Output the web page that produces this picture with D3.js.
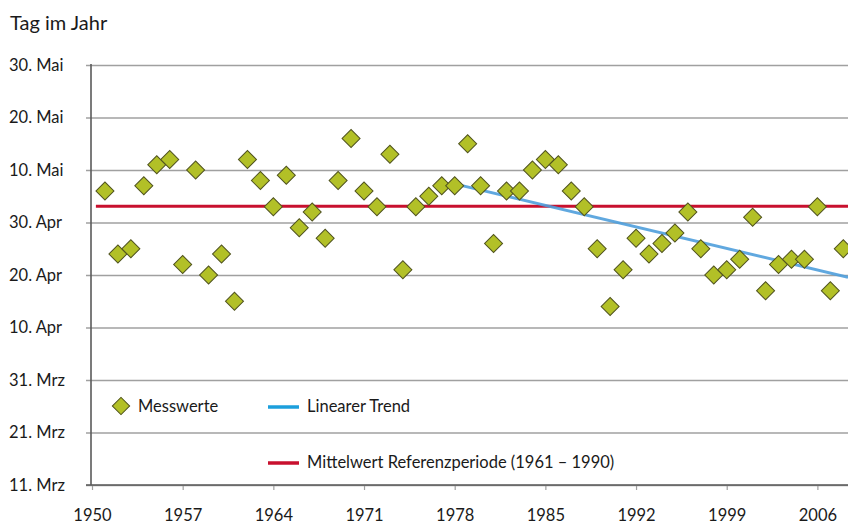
<!DOCTYPE html>
<html>
<head>
<meta charset="utf-8">
<script src="https://cdn.jsdelivr.net/npm/d3@7"></script>
<style>
  html, body { margin: 0; padding: 0; background: #fff; }
  svg { display: block; }
  text { font-family: Lato, "Noto Sans", sans-serif; fill: #1a1a1a; }
</style>
</head>
<body>
<svg id="chart" width="848" height="528"></svg>
<script>
// Observation years
const years = d3.range(1951, 2009);

// Day of year of each observation (1 = 1 Jan)
const dayOfYear = [
  126, 114, 115, 127, 131, 132, 112, 130, 110, 114,
  105, 132, 128, 123, 129, 119, 122, 117, 128, 136,
  126, 123, 133, 111, 123, 125, 127, 127, 135, 127,
  116, 126, 126, 130, 132, 131, 126, 123, 115, 104,
  111, 117, 114, 116, 118, 122, 115, 110, 111, 113,
  121, 107, 112, 113, 113, 123, 107, 115
];

// Mean of the 1961–1990 reference period (day of year)
const referenceMean = 123.1;
const referenceStart = 1950.3;

// Linear trend fitted over this span
const trendYears = [1978, 2008];

// Axis ticks
const yTickDays = [70, 80, 90, 100, 110, 120, 130, 140, 150];
const yTickLabels = ["11. Mrz", "21. Mrz", "31. Mrz", "10. Apr", "20. Apr", "30. Apr", "10. Mai", "20. Mai", "30. Mai"];
const xTickYears = [1950, 1957, 1964, 1971, 1978, 1985, 1992, 1999, 2006];

// Legend entries
const legendLabels = ["Messwerte", "Linearer Trend", "Mittelwert Referenzperiode (1961 \u2013 1990)"];

const colors = {
  point: "#b2c027",
  pointStroke: "#50531f",
  trend: "#4f9fdc",
  trendLegend: "#1c9fdc",
  mean: "#c8102e",
  grid: "#a0a0a0",
  axis: "#5a5a5a"
};

const labelSize = 16.5;

const svg = d3.select("#chart");

const plot = { left: 91, right: 848, top: 65, bottom: 485 };

const x = d3.scaleLinear().domain([1950, 2008]).range([92, 843.3]);
const y = d3.scaleLinear().domain([70, 150]).range([plot.bottom, plot.top]);

// Horizontal gridlines with short ticks left of the axis
const yAxis = d3.axisLeft(y)
  .tickValues(yTickDays)
  .tickSize(-(plot.right - plot.left))
  .tickSizeOuter(0)
  .tickFormat(() => "");

const gy = svg.append("g")
  .attr("transform", `translate(${plot.left},0)`)
  .call(yAxis);
gy.select(".domain").remove();
gy.selectAll(".tick line")
  .attr("x1", -5)
  .attr("stroke", colors.grid)
  .attr("stroke-width", 1.6);

// Y labels, left aligned
svg.append("g").selectAll("text")
  .data(yTickDays)
  .join("text")
  .attr("x", 9)
  .attr("y", d => y(d))
  .attr("dy", "0.35em")
  .attr("font-size", labelSize)
  .text((d, i) => yTickLabels[i]);

// Axis lines
svg.append("line")
  .attr("x1", plot.left).attr("x2", plot.left)
  .attr("y1", plot.top - 1).attr("y2", plot.bottom)
  .attr("stroke", colors.axis).attr("stroke-width", 1.6);

const xAxis = d3.axisBottom(x)
  .tickValues(xTickYears)
  .tickSize(5)
  .tickSizeOuter(0)
  .tickPadding(19)
  .tickFormat(d3.format("d"));

const gx = svg.append("g")
  .attr("transform", `translate(0,${plot.bottom})`)
  .call(xAxis);
gx.select(".domain").remove();
gx.selectAll(".tick line").attr("stroke", colors.grid).attr("stroke-width", 1.2);
gx.selectAll(".tick text")
  .attr("font-family", "Lato, 'Noto Sans', sans-serif")
  .attr("font-size", labelSize)
  .attr("fill", "#1a1a1a");

svg.append("line")
  .attr("x1", plot.left - 5).attr("x2", plot.right)
  .attr("y1", plot.bottom).attr("y2", plot.bottom)
  .attr("stroke", colors.axis).attr("stroke-width", 1.6);

// Title
svg.append("text")
  .attr("x", 10)
  .attr("y", 30)
  .attr("font-size", 20)
  .text("Tag im Jahr");

const data = years.map((yr, i) => ({ year: yr, day: dayOfYear[i] }));

// Reference mean
svg.append("line")
  .attr("x1", x(referenceStart)).attr("x2", plot.right)
  .attr("y1", y(referenceMean)).attr("y2", y(referenceMean))
  .attr("stroke", colors.mean)
  .attr("stroke-width", 3);

// Least-squares trend over the trend span
const trendData = data.filter(d => d.year >= trendYears[0] && d.year <= trendYears[1]);
const mx = d3.mean(trendData, d => d.year);
const my = d3.mean(trendData, d => d.day);
const slope = d3.sum(trendData, d => (d.year - mx) * (d.day - my)) /
              d3.sum(trendData, d => (d.year - mx) ** 2);
const trendAt = yr => my + slope * (yr - mx);
const trendEnd = x.invert(plot.right);

svg.append("path")
  .datum([trendYears[0], trendEnd])
  .attr("d", d3.line().x(d => x(d)).y(d => y(trendAt(d))))
  .attr("fill", "none")
  .attr("stroke", colors.trend)
  .attr("stroke-width", 3)
  .attr("stroke-opacity", 0.9);

// Measured values as diamonds
const diamond = d3.symbol().type(d3.symbolSquare).size(162);

svg.append("g")
  .selectAll("path")
  .data(data)
  .join("path")
  .attr("d", diamond)
  .attr("transform", d => `translate(${x(d.year)},${y(d.day)}) rotate(45)`)
  .attr("fill", colors.point)
  .attr("stroke", colors.pointStroke)
  .attr("stroke-width", 1);

// Legend
const legend = svg.append("g");

legend.append("path")
  .attr("d", d3.symbol().type(d3.symbolSquare).size(150))
  .attr("transform", "translate(121,406) rotate(45)")
  .attr("fill", colors.point)
  .attr("stroke", colors.pointStroke);

legend.append("text")
  .attr("x", 138).attr("y", 406).attr("dy", "0.35em")
  .attr("font-size", labelSize)
  .text(legendLabels[0]);

legend.append("line")
  .attr("x1", 268).attr("x2", 299)
  .attr("y1", 407).attr("y2", 407)
  .attr("stroke", colors.trendLegend).attr("stroke-width", 3.5);

legend.append("text")
  .attr("x", 307).attr("y", 406).attr("dy", "0.35em")
  .attr("font-size", labelSize)
  .text(legendLabels[1]);

legend.append("line")
  .attr("x1", 268).attr("x2", 299)
  .attr("y1", 463).attr("y2", 463)
  .attr("stroke", colors.mean).attr("stroke-width", 3.5);

legend.append("text")
  .attr("x", 307).attr("y", 462).attr("dy", "0.35em")
  .attr("font-size", labelSize)
  .text(legendLabels[2]);
</script>
</body>
</html>
